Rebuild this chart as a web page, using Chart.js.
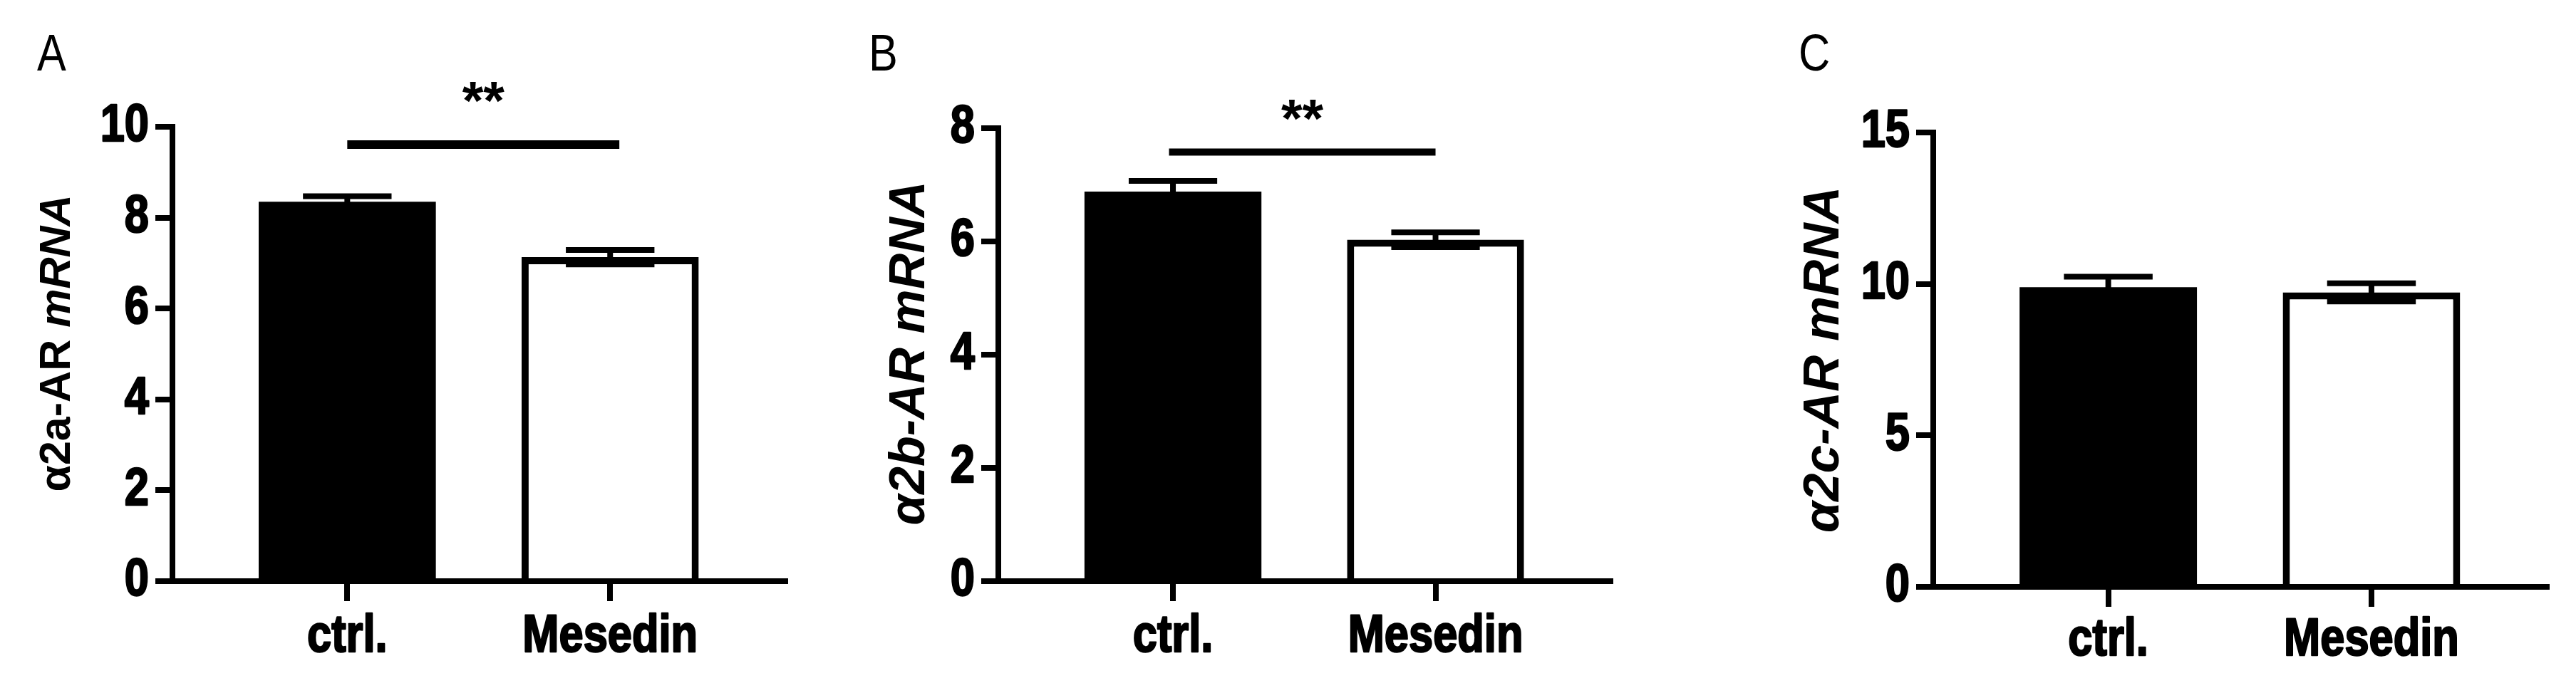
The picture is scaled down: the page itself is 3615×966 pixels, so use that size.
<!DOCTYPE html>
<html lang="en">
<head>
    <meta charset="UTF-8">
    <title>α2-AR mRNA</title>
    <script src="https://cdn.jsdelivr.net/npm/chart.js"></script>
    <style>
        body { margin: 0; background: #fff; }
        #wrap { position: relative; width: 3615px; height: 966px; overflow: hidden; background: #fff; }
        .panel { position: absolute; top: 0; }
        .letter {
            position: absolute;
            font-family: 'Liberation Sans', Arial, sans-serif;
            font-size: 72px;
            line-height: 1;
            color: #000;
            transform: scaleX(0.85);
            transform-origin: left top;
        }
    </style>
</head>
<body>
<div id="wrap">
    <div class="letter" style="left:52px;top:38px">A</div>
    <div class="letter" style="left:1219px;top:38px">B</div>
    <div class="letter" style="left:2524px;top:38px">C</div>
    <canvas id="chartA" class="panel" style="left:0px" width="1106" height="966"></canvas>
    <canvas id="chartB" class="panel" style="left:1150px" width="1114" height="966"></canvas>
    <canvas id="chartC" class="panel" style="left:2450px" width="1128" height="966"></canvas>
</div>
<script>
    const categories = ['ctrl.', 'Mesedin'];

    const meanA = [8.35, 7.13];
    const semA = [0.12, 0.16];
    const meanB = [6.88, 6.03];
    const semB = [0.19, 0.13];
    const meanC = [9.89, 9.72];
    const semC = [0.35, 0.30];

    const yTicksA = [0, 2, 4, 6, 8, 10];
    const yTicksB = [0, 2, 4, 6, 8];
    const yTicksC = [0, 5, 10, 15];

    // axis titles: [upright part, italic part]
    const titleA = ['α2a-AR ', 'mRNA'];
    const titleB = ['', 'α2b-AR mRNA'];
    const titleC = ['', 'α2c-AR mRNA'];

    // significance bracket: x span, bracket height, star height (data units)
    const sigSpanA = [0, 1.035];
    const sigLineA = 9.61;
    const sigStarA = 10.81;
    const sigSpanB = [-0.015, 1.0];
    const sigLineB = 7.58;
    const sigStarB = 8.36;
    const sigText = '**';

    const WIDE = "'Liberation Sans', Arial, sans-serif";
    const NARROW_X = 0.83;   // squeeze Liberation Sans to look like Arial Narrow

    const errorBars = {
        id: 'errorBars',
        afterDatasetsDraw(chart, args, opts) {
            const { ctx, scales: { x, y } } = chart;
            const meta = chart.getDatasetMeta(0);
            ctx.save();
            ctx.strokeStyle = '#000';
            ctx.lineWidth = 8;
            opts.means.forEach((m, i) => {
                const half = meta.data[i].width / 4;
                const cx = x.getPixelForValue(i);
                const yt = y.getPixelForValue(m + opts.sems[i]);
                const yb = y.getPixelForValue(m - opts.sems[i]);
                ctx.beginPath();
                ctx.moveTo(cx, yt); ctx.lineTo(cx, yb);
                ctx.moveTo(cx - half, yt); ctx.lineTo(cx + half, yt);
                ctx.moveTo(cx - half, yb); ctx.lineTo(cx + half, yb);
                ctx.stroke();
            });
            if (opts.sigSpan) {
                const yl = y.getPixelForValue(opts.sigLine);
                ctx.lineWidth = opts.sigWidth;
                ctx.beginPath();
                ctx.moveTo(x.getPixelForValue(opts.sigSpan[0]), yl);
                ctx.lineTo(x.getPixelForValue(opts.sigSpan[1]), yl);
                ctx.stroke();
                const size = 76;
                ctx.font = 'bold ' + size + 'px ' + WIDE;
                ctx.fillStyle = '#000';
                ctx.textAlign = 'center';
                ctx.textBaseline = 'alphabetic';
                const sx = x.getPixelForValue((opts.sigSpan[0] + opts.sigSpan[1]) / 2);
                ctx.fillText(sigText, sx, y.getPixelForValue(opts.sigStar) + 0.53 * size);
            }
            ctx.restore();
        }
    };

    // tick labels in a condensed heavy face, plus the rotated y title
    const axisText = {
        id: 'axisText',
        afterDraw(chart, args, opts) {
            const { ctx, scales: { x, y } } = chart;
            ctx.save();
            ctx.fillStyle = '#000';
            ctx.strokeStyle = '#000';
            ctx.lineWidth = 2.5;
            ctx.lineJoin = 'round';
            ctx.font = 'bold 74px ' + WIDE;
            ctx.textAlign = 'right';
            ctx.textBaseline = 'middle';
            y.ticks.forEach(t => {
                ctx.save();
                ctx.translate(y.right - opts.yGap, y.getPixelForValue(t.value));
                ctx.scale(NARROW_X, 1);
                ctx.fillText(String(t.value), 0, 0);
                ctx.strokeText(String(t.value), 0, 0);
                ctx.restore();
            });
            ctx.textAlign = 'center';
            ctx.textBaseline = 'alphabetic';
            categories.forEach((c, i) => {
                ctx.save();
                ctx.translate(x.getPixelForValue(i), x.top + opts.xGap);
                ctx.scale(NARROW_X, 1);
                ctx.fillText(c, 0, 0);
                ctx.strokeText(c, 0, 0);
                ctx.restore();
            });

            // y title: upright part then italic part, rotated
            const fonts = ['bold ' + opts.titleSize + 'px ' + WIDE, 'italic bold ' + opts.titleSize + 'px ' + WIDE];
            let total = 0;
            opts.title.forEach((s, k) => { ctx.font = fonts[k]; total += ctx.measureText(s).width; });
            ctx.translate(opts.titleX, opts.titleY);
            ctx.rotate(-Math.PI / 2);
            ctx.textAlign = 'left';
            ctx.textBaseline = 'middle';
            let pos = -total / 2;
            opts.title.forEach((s, k) => {
                ctx.font = fonts[k];
                ctx.fillText(s, pos, 0);
                pos += ctx.measureText(s).width;
            });
            ctx.restore();
        }
    };

    function makePanel(id, means, sems, yTicks, title, cfg) {
        const ctx = document.getElementById(id).getContext('2d');
        return new Chart(ctx, {
            type: 'bar',
            data: {
                datasets: [{
                    data: means.map((v, i) => ({ x: i, y: v })),
                    backgroundColor: ['#000000', '#ffffff'],
                    borderColor: '#000000',
                    borderWidth: [0, 10],
                    barPercentage: 0.674,
                    categoryPercentage: 1.0,
                }]
            },
            plugins: [errorBars, axisText],
            options: {
                responsive: false,
                animation: false,
                events: [],
                layout: { padding: { top: cfg.top, left: 0, right: 0, bottom: 0 } },
                plugins: {
                    legend: { display: false },
                    tooltip: { enabled: false },
                    errorBars: {
                        means: means,
                        sems: sems,
                        sigSpan: cfg.sigSpan,
                        sigLine: cfg.sigLine,
                        sigStar: cfg.sigStar,
                        sigWidth: cfg.sigWidth,
                    },
                    axisText: {
                        yGap: 33, xGap: cfg.xGap,
                        title: title, titleSize: cfg.titleSize, titleX: cfg.titleX, titleY: cfg.titleY
                    }
                },
                scales: {
                    x: {
                        type: 'linear',
                        offset: false,
                        bounds: 'data',
                        min: -0.665,
                        max: 1.677,
                        afterBuildTicks: (s) => { s.ticks = categories.map((c, i) => ({ value: i })); },
                        afterFit: (s) => { s.height = cfg.xHeight; },
                        ticks: { display: false },
                        grid: { offset: false, drawOnChartArea: false, drawTicks: true, tickLength: 28, lineWidth: 8, color: '#000' },
                        border: { display: true, width: 8, color: '#000' },
                    },
                    y: {
                        min: 0,
                        max: yTicks[yTicks.length - 1],
                        afterBuildTicks: (s) => { s.ticks = yTicks.map(v => ({ value: v })); },
                        afterFit: (s) => { s.width = cfg.yWidth; },
                        ticks: { display: false },
                        grid: { drawOnChartArea: false, drawTicks: true, tickLength: 24, lineWidth: 8, color: '#000' },
                        border: { display: true, width: 8, color: '#000' },
                    }
                }
            }
        });
    }

    makePanel('chartA', meanA, semA, yTicksA, titleA, {
        top: 178, xHeight: 150, yWidth: 242, titleSize: 61, titleX: 81, titleY: 482, xGap: 99,
        sigSpan: sigSpanA, sigLine: sigLineA, sigStar: sigStarA, sigWidth: 12
    });
    makePanel('chartB', meanB, semB, yTicksB, titleB, {
        top: 180, xHeight: 150, yWidth: 251, titleSize: 70, titleX: 128, titleY: 496, xGap: 99,
        sigSpan: sigSpanB, sigLine: sigLineB, sigStar: sigStarB, sigWidth: 10
    });
    makePanel('chartC', meanC, semC, yTicksC, titleC, {
        top: 186, xHeight: 142, yWidth: 263, titleSize: 71, titleX: 110, titleY: 505, xGap: 96
    });
</script>
</body>
</html>
